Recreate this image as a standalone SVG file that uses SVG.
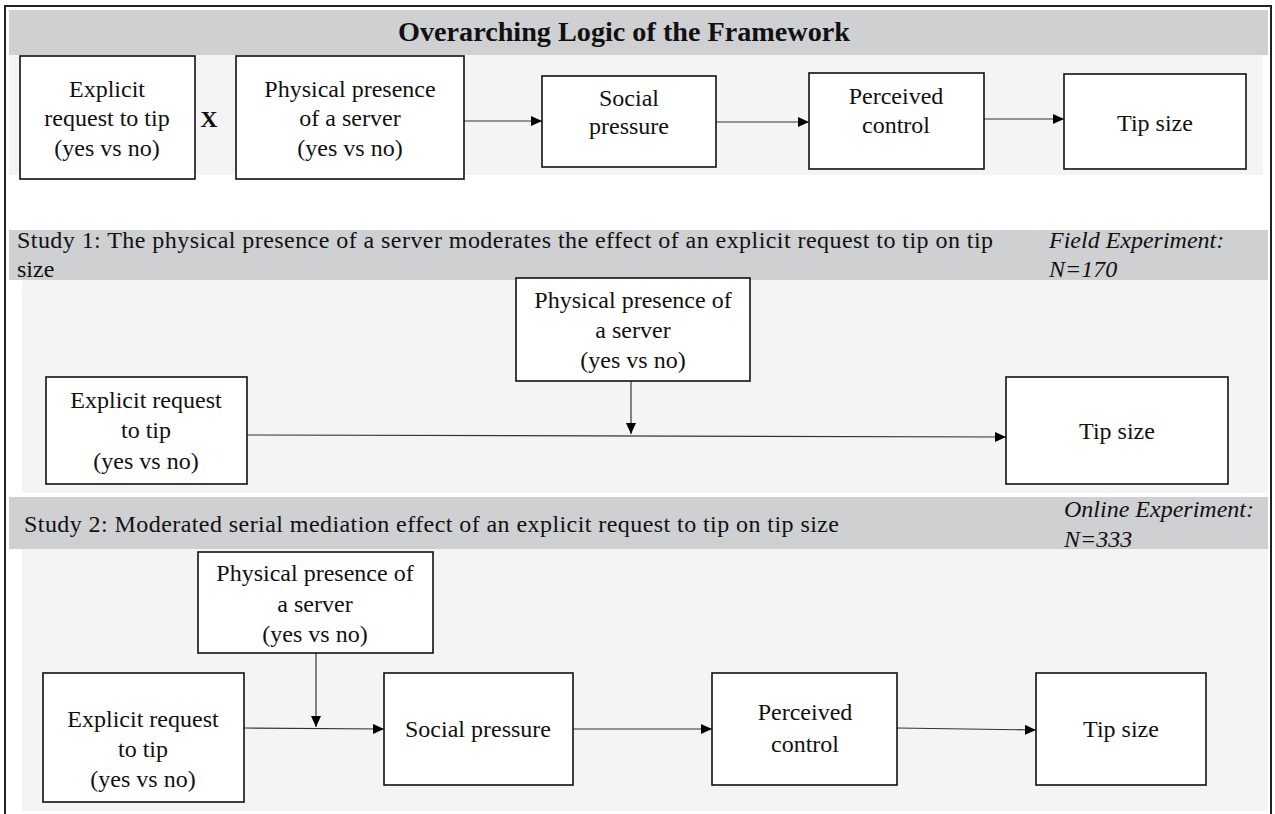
<svg xmlns="http://www.w3.org/2000/svg" width="1275" height="814" viewBox="0 0 1275 814">
<style>
.bar{fill:#cfd0d2}
.panel{fill:#f4f4f4}
.box{fill:#fff;stroke:#111;stroke-width:1.6}
.t{font-family:'Liberation Serif',serif;font-size:24px;fill:#111}
.c{text-anchor:middle}
.i{font-style:italic}
.b{font-weight:bold}
.title{font-size:27px;font-weight:bold}
.edge{stroke:#333;stroke-width:1.2;fill:none;marker-end:url(#ah)}
</style>
<defs>
<marker id="ah" markerUnits="userSpaceOnUse" markerWidth="11" markerHeight="10" refX="11" refY="5" orient="auto"><path d="M0,0 L11,5 L0,10 z" fill="#000"/></marker>
</defs>
<rect x="0" y="0" width="1275" height="814" fill="#fff"/>
<g id="frame">
<path d="M5,814 V6 H1271 V814" fill="none" stroke="#222" stroke-width="2"/>
<rect class="bar" x="9" y="10" width="1259" height="45"/>
<rect class="panel" x="9" y="55" width="1254" height="120"/>
<text class="t c title" x="624" y="41" textLength="452" lengthAdjust="spacingAndGlyphs">Overarching Logic of the Framework</text>
<rect class="bar" x="9" y="230" width="1259" height="50"/>
<rect class="panel" x="22" y="280" width="1246" height="213"/>
<text class="t" x="17" y="248" textLength="976" lengthAdjust="spacing">Study 1: The physical presence of a server moderates the effect of an explicit request to tip on tip</text>
<text class="t" x="17" y="277">size</text>
<text class="t i" x="1049" y="248">Field Experiment:</text>
<text class="t i" x="1049" y="277">N=170</text>
<rect class="bar" x="9" y="497" width="1259" height="52"/>
<rect class="panel" x="22" y="549" width="1246" height="262"/>
<text class="t" x="24" y="532" textLength="815" lengthAdjust="spacing">Study 2: Moderated serial mediation effect of an explicit request to tip on tip size</text>
<text class="t i" x="1064" y="517">Online Experiment:</text>
<text class="t i" x="1064" y="547">N=333</text>
</g>
<g id="connectors">
<path class="edge" d="M464,121 H542"/>
<path class="edge" d="M716,122 H809"/>
<path class="edge" d="M984,119 H1064"/>
<path class="edge" d="M631,381 V434"/>
<path class="edge" d="M247,435 L1006,437"/>
<path class="edge" d="M316,653 V727"/>
<path class="edge" d="M244,728 L384,729"/>
<path class="edge" d="M573,729 H712"/>
<path class="edge" d="M897,728 L1036,730"/>
</g>
<g id="top-request">
<rect class="box" x="20" y="56" width="175" height="123"/>
<text class="t c" x="107" y="97">Explicit</text>
<text class="t c" x="107" y="126">request to tip</text>
<text class="t c" x="107" y="156">(yes vs no)</text>
</g>
<g id="top-x"><text class="t c b" x="209" y="127">X</text></g>
<g id="top-presence">
<rect class="box" x="236" y="56" width="228" height="123"/>
<text class="t c" x="350" y="97">Physical presence</text>
<text class="t c" x="350" y="126">of a server</text>
<text class="t c" x="350" y="156">(yes vs no)</text>
</g>
<g id="top-social">
<rect class="box" x="542" y="76" width="174" height="91"/>
<text class="t c" x="629" y="106">Social</text>
<text class="t c" x="629" y="134">pressure</text>
</g>
<g id="top-control">
<rect class="box" x="809" y="73" width="175" height="96"/>
<text class="t c" x="896" y="104">Perceived</text>
<text class="t c" x="896" y="133">control</text>
</g>
<g id="top-tip">
<rect class="box" x="1064" y="74" width="182" height="95"/>
<text class="t c" x="1155" y="131">Tip size</text>
</g>
<g id="s1-presence">
<rect class="box" x="516" y="278" width="234" height="103"/>
<text class="t c" x="633" y="308">Physical presence of</text>
<text class="t c" x="633" y="338">a server</text>
<text class="t c" x="633" y="368">(yes vs no)</text>
</g>
<g id="s1-request">
<rect class="box" x="46" y="377" width="201" height="107"/>
<text class="t c" x="146" y="408">Explicit request</text>
<text class="t c" x="146" y="438">to tip</text>
<text class="t c" x="146" y="469">(yes vs no)</text>
</g>
<g id="s1-tip">
<rect class="box" x="1006" y="377" width="222" height="107"/>
<text class="t c" x="1117" y="439">Tip size</text>
</g>
<g id="s2-presence">
<rect class="box" x="198" y="552" width="235" height="101"/>
<text class="t c" x="315" y="581">Physical presence of</text>
<text class="t c" x="315" y="612">a server</text>
<text class="t c" x="315" y="642">(yes vs no)</text>
</g>
<g id="s2-request">
<rect class="box" x="43" y="673" width="201" height="129"/>
<text class="t c" x="143" y="727">Explicit request</text>
<text class="t c" x="143" y="757">to tip</text>
<text class="t c" x="143" y="787">(yes vs no)</text>
</g>
<g id="s2-social">
<rect class="box" x="384" y="673" width="189" height="112"/>
<text class="t c" x="478" y="737">Social pressure</text>
</g>
<g id="s2-control">
<rect class="box" x="712" y="673" width="185" height="112"/>
<text class="t c" x="805" y="720">Perceived</text>
<text class="t c" x="805" y="752">control</text>
</g>
<g id="s2-tip">
<rect class="box" x="1036" y="673" width="170" height="112"/>
<text class="t c" x="1121" y="737">Tip size</text>
</g>
</svg>
